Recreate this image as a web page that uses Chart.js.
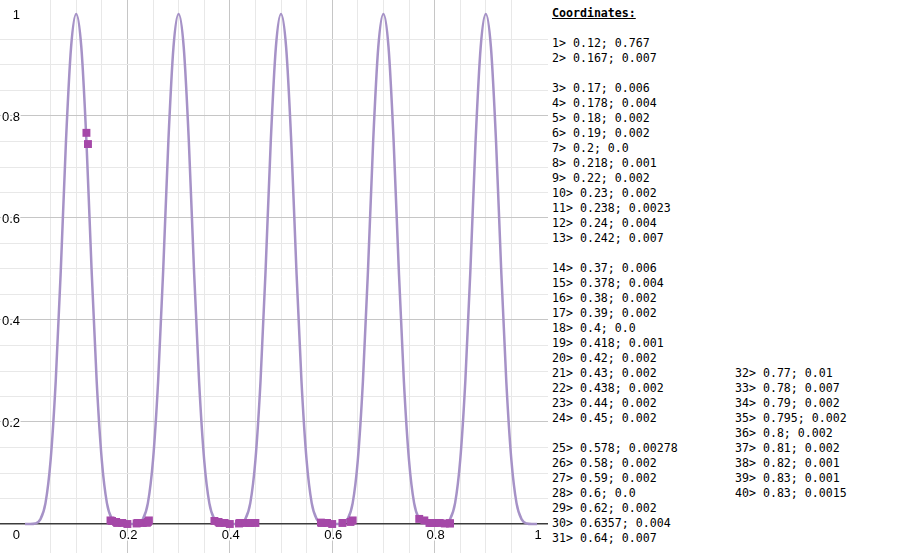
<!DOCTYPE html>
<html lang="en">
<head>
    <meta charset="UTF-8">
    <title>Coordinates</title>
    <script src="https://cdn.jsdelivr.net/npm/chart.js"></script>
    <style>
        body {
            margin: 0;
            background: #ffffff;
            width: 903px;
            height: 553px;
            overflow: hidden;
            position: relative;
        }
        #graph {
            position: absolute;
            left: 0;
            top: 0;
        }
        .coords {
            position: absolute;
            margin: 0;
            font-family: "DejaVu Sans Mono", monospace;
            font-size: 11.6px;
            line-height: 15px;
            color: #000;
            white-space: pre;
        }
        .coords b {
            text-decoration: underline;
        }
        #col1 { left: 552px; top: 6px; }
        #col2 { left: 735px; top: 366px; }
    </style>
</head>
<body>
    <canvas id="graph" width="548" height="553"></canvas>
<pre class="coords" id="col1"><b>Coordinates:</b>

1&gt; 0.12; 0.767
2&gt; 0.167; 0.007

3&gt; 0.17; 0.006
4&gt; 0.178; 0.004
5&gt; 0.18; 0.002
6&gt; 0.19; 0.002
7&gt; 0.2; 0.0
8&gt; 0.218; 0.001
9&gt; 0.22; 0.002
10&gt; 0.23; 0.002
11&gt; 0.238; 0.0023
12&gt; 0.24; 0.004
13&gt; 0.242; 0.007

14&gt; 0.37; 0.006
15&gt; 0.378; 0.004
16&gt; 0.38; 0.002
17&gt; 0.39; 0.002
18&gt; 0.4; 0.0
19&gt; 0.418; 0.001
20&gt; 0.42; 0.002
21&gt; 0.43; 0.002
22&gt; 0.438; 0.002
23&gt; 0.44; 0.002
24&gt; 0.45; 0.002

25&gt; 0.578; 0.00278
26&gt; 0.58; 0.002
27&gt; 0.59; 0.002
28&gt; 0.6; 0.0
29&gt; 0.62; 0.002
30&gt; 0.6357; 0.004
31&gt; 0.64; 0.007</pre>
<pre class="coords" id="col2">32&gt; 0.77; 0.01
33&gt; 0.78; 0.007
34&gt; 0.79; 0.002
35&gt; 0.795; 0.002
36&gt; 0.8; 0.002
37&gt; 0.81; 0.002
38&gt; 0.82; 0.001
39&gt; 0.83; 0.001
40&gt; 0.83; 0.0015</pre>
    <script>
        // curve, every 0.01
        const curveX = [
            0.00, 0.01, 0.02, 0.03, 0.04, 0.05, 0.06, 0.07, 0.08, 0.09,
            0.10, 0.11, 0.12, 0.13, 0.14, 0.15, 0.16, 0.17, 0.18, 0.19,
            0.20, 0.21, 0.22, 0.23, 0.24, 0.25, 0.26, 0.27, 0.28, 0.29,
            0.30, 0.31, 0.32, 0.33, 0.34, 0.35, 0.36, 0.37, 0.38, 0.39,
            0.40, 0.41, 0.42, 0.43, 0.44, 0.45, 0.46, 0.47, 0.48, 0.49,
            0.50, 0.51, 0.52, 0.53, 0.54, 0.55, 0.56, 0.57, 0.58, 0.59,
            0.60, 0.61, 0.62, 0.63, 0.64, 0.65, 0.66, 0.67, 0.68, 0.69,
            0.70, 0.71, 0.72, 0.73, 0.74, 0.75, 0.76, 0.77, 0.78, 0.79,
            0.80, 0.81, 0.82, 0.83, 0.84, 0.85, 0.86, 0.87, 0.88, 0.89,
            0.90, 0.91, 0.92, 0.93, 0.94, 0.95, 0.96, 0.97, 0.98, 0.99,
            1.00
        ];
        const curveY = [
            0, 0, 0.001, 0.009, 0.041, 0.125, 0.28, 0.5, 0.75, 0.935,
            1, 0.935, 0.75, 0.5, 0.28, 0.125, 0.041, 0.009, 0.001, 0,
            0, 0, 0.001, 0.009, 0.041, 0.125, 0.28, 0.5, 0.75, 0.935,
            1, 0.935, 0.75, 0.5, 0.28, 0.125, 0.041, 0.009, 0.001, 0,
            0, 0, 0.001, 0.009, 0.041, 0.125, 0.28, 0.5, 0.75, 0.935,
            1, 0.935, 0.75, 0.5, 0.28, 0.125, 0.041, 0.009, 0.001, 0,
            0, 0, 0.001, 0.009, 0.041, 0.125, 0.28, 0.5, 0.75, 0.935,
            1, 0.935, 0.75, 0.5, 0.28, 0.125, 0.041, 0.009, 0.001, 0,
            0, 0, 0.001, 0.009, 0.041, 0.125, 0.28, 0.5, 0.75, 0.935,
            1, 0.935, 0.75, 0.5, 0.28, 0.125, 0.041, 0.009, 0.001, 0,
            0
        ];

        // marked points
        const pointX = [0.12, 0.123, 0.167,
            0.17, 0.178, 0.18, 0.19, 0.2, 0.218, 0.22, 0.23, 0.238, 0.24, 0.242,
            0.37, 0.378, 0.38, 0.39, 0.4, 0.418, 0.42, 0.43, 0.438, 0.44, 0.45,
            0.578, 0.58, 0.59, 0.6, 0.62, 0.6357, 0.64,
            0.77, 0.78, 0.79, 0.795, 0.8, 0.81, 0.82, 0.83, 0.83];
        const pointY = [0.767, 0.745, 0.007,
            0.006, 0.004, 0.002, 0.002, 0.0, 0.001, 0.002, 0.002, 0.0023, 0.004, 0.007,
            0.006, 0.004, 0.002, 0.002, 0.0, 0.001, 0.002, 0.002, 0.002, 0.002, 0.002,
            0.00278, 0.002, 0.002, 0.0, 0.002, 0.004, 0.007,
            0.01, 0.007, 0.002, 0.002, 0.002, 0.002, 0.001, 0.001, 0.0015];

        const xTickValues = [0.2, 0.4, 0.6, 0.8, 1];
        const xTickLabels = ['0.2', '0.4', '0.6', '0.8', '1'];
        const yTickValues = [0.2, 0.4, 0.6, 0.8, 1];
        const yTickLabels = ['0.2', '0.4', '0.6', '0.8', '1'];
        const originLabel = '0';

        function gridColor(ctx) {
            const k = ctx.tick.value / 0.05;
            const r = Math.round(k);
            if (Math.abs(k - r) > 1e-6) return 'rgba(0,0,0,0)';
            if (r === 0) return '#3c3c3c';
            if (r % 4 === 0) return '#c6c6c6';
            return '#e8e8e8';
        }
        function gridWidth(ctx) {
            return Math.abs(ctx.tick.value) < 1e-9 ? 1.5 : 1;
        }

        const tickLabels = {
            id: 'tickLabels',
            beforeDatasetsDraw(chart) {
                const c = chart.ctx;
                const xs = chart.scales.x, ys = chart.scales.y;
                const ox = xs.getPixelForValue(0), oy = ys.getPixelForValue(0);
                c.save();
                c.font = '13px "Liberation Sans", Arial, sans-serif';
                c.fillStyle = '#000';
                c.strokeStyle = '#ffffff';
                c.lineWidth = 3;
                c.lineJoin = 'round';
                c.textBaseline = 'alphabetic';
                c.textAlign = 'center';
                xTickValues.forEach((v, i) => {
                    const px = xs.getPixelForValue(v) + 1;
                    c.strokeText(xTickLabels[i], px, oy + 15);
                    c.fillText(xTickLabels[i], px, oy + 15);
                });
                c.textAlign = 'right';
                yTickValues.forEach((v, i) => {
                    const py = ys.getPixelForValue(v);
                    c.strokeText(yTickLabels[i], ox - 5, py + 4.5);
                    c.fillText(yTickLabels[i], ox - 5, py + 4.5);
                });
                c.strokeText(originLabel, ox - 5, oy + 15);
                c.fillText(originLabel, ox - 5, oy + 15);
                c.restore();
            }
        };

        new Chart(document.getElementById('graph'), {
            type: 'scatter',
            data: {
                datasets: [{
                    label: 'points',
                    data: pointX.map((x, i) => ({ x: x, y: pointY[i] })),
                    pointStyle: 'rect',
                    pointRadius: 5.6,
                    backgroundColor: '#a548a8',
                    borderColor: '#a548a8',
                    borderWidth: 0,
                    showLine: false
                }, {
                    label: 'curve',
                    data: curveX.map((x, i) => ({ x: x, y: curveY[i] })),
                    showLine: true,
                    pointRadius: 0,
                    borderColor: '#a692c7',
                    borderWidth: 2.5,
                    cubicInterpolationMode: 'monotone',
                    fill: false
                }]
            },
            options: {
                responsive: false,
                animation: false,
                layout: { padding: 0, autoPadding: false },
                plugins: {
                    legend: { display: false },
                    tooltip: { enabled: false }
                },
                scales: {
                    x: {
                        type: 'linear',
                        min: -25 / 512,
                        max: 523 / 512,
                        ticks: { display: false, stepSize: 0.05 },
                        grid: { color: gridColor, lineWidth: gridWidth, drawTicks: false },
                        border: { display: false }
                    },
                    y: {
                        type: 'linear',
                        min: -29 / 510,
                        max: 524 / 510,
                        ticks: { display: false, stepSize: 0.05 },
                        grid: { color: gridColor, lineWidth: gridWidth, drawTicks: false },
                        border: { display: false }
                    }
                }
            },
            plugins: [tickLabels]
        });
    </script>
</body>
</html>
